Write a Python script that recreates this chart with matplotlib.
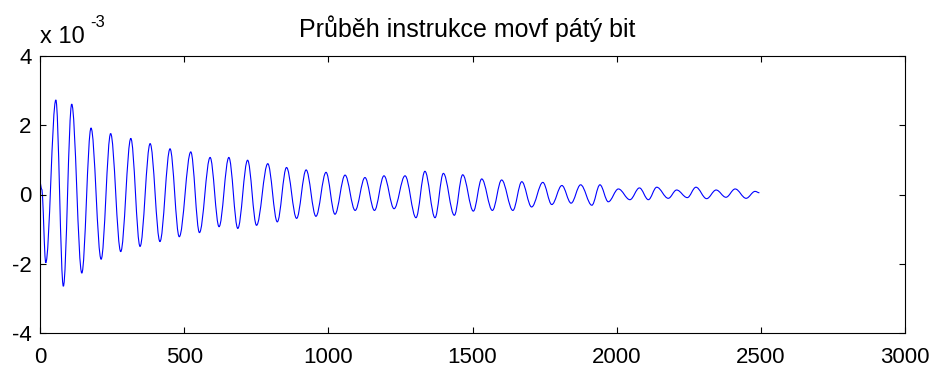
import numpy as np
import matplotlib
matplotlib.use('Agg')
import matplotlib.pyplot as plt
from matplotlib.path import Path
from matplotlib.patches import PathPatch

plt.rcParams['font.family'] = ['Liberation Sans', 'DejaVu Sans']

# sample index / amplitude (x 1e-3) at turning points of the trace
samples = [0, 6, 20, 55, 81, 110, 145, 177, 212, 245, 280, 315, 347, 382, 416,
           451, 483, 523, 553, 590, 621, 655, 686, 720, 751, 790, 823, 855, 890,
           923, 957, 992, 1023, 1058, 1093, 1127, 1160, 1193, 1228, 1266, 1304,
           1335, 1370, 1399, 1437, 1466, 1503, 1532, 1569, 1601, 1640, 1671,
           1705, 1744, 1775, 1810, 1842, 1875, 1914, 1942, 1971, 2006, 2046,
           2079, 2110, 2139, 2179, 2208, 2245, 2275, 2312, 2345, 2379, 2411,
           2449, 2480, 2495]
amplitude = [0.34, 0.15, -1.97, 2.73, -2.65, 2.61, -2.27, 1.92, -1.87, 1.76,
             -1.65, 1.62, -1.50, 1.47, -1.36, 1.32, -1.22, 1.23, -1.10, 1.07,
             -0.93, 1.07, -0.98, 0.99, -0.89, 0.89, -0.79, 0.78, -0.69, 0.71,
             -0.63, 0.64, -0.57, 0.56, -0.46, 0.49, -0.46, 0.54, -0.41, 0.54,
             -0.67, 0.67, -0.67, 0.61, -0.60, 0.57, -0.48, 0.45, -0.46, 0.42,
             -0.46, 0.37, -0.36, 0.35, -0.29, 0.26, -0.25, 0.28, -0.31, 0.28,
             -0.21, 0.16, -0.15, 0.19, -0.15, 0.21, -0.11, 0.13, -0.09, 0.21,
             -0.12, 0.13, -0.08, 0.16, -0.11, 0.09, 0.05]

xticks = [0, 500, 1000, 1500, 2000, 2500, 3000]
yticks = [-4, -2, 0, 2, 4]

fig = plt.figure(figsize=(9.4, 3.72), dpi=100)
ax = fig.add_axes([40/940, 39/372, 865/940, 277/372])

# smooth the trace between turning points with flat-tangent bezier segments
verts = [(samples[0], amplitude[0])]
codes = [Path.MOVETO]
for i in range(1, len(samples)):
    x0, y0 = samples[i-1], amplitude[i-1]
    x1, y1 = samples[i], amplitude[i]
    dx = x1 - x0
    verts += [(x0 + 0.36*dx, y0), (x1 - 0.36*dx, y1), (x1, y1)]
    codes += [Path.CURVE4] * 3
trace = PathPatch(Path(verts, codes), fill=False, edgecolor=(0, 0, 1), lw=0.8)
ax.add_patch(trace)

ax.set_xlim(0, 3000)
ax.set_ylim(-4, 4)
ax.set_xticks(xticks)
ax.set_yticks(yticks)
ax.set_xticklabels([str(t) for t in xticks])
ax.set_yticklabels([str(t) for t in yticks])
ax.tick_params(direction='in', length=4, width=0.8, top=True, right=True,
               labelsize=16)
ax.tick_params(axis='x', pad=10)
ax.tick_params(axis='y', pad=6)
for s in ax.spines.values():
    s.set_linewidth(0.8)

fig.text(467/940, 1 - 37/372, 'Průběh instrukce movf pátý bit', fontsize=18,
         ha='center', va='baseline')
fig.text(40/940, 1 - 43/372, 'x 10', fontsize=17, va='baseline', ha='left')
fig.text(90/940, 1 - 27/372, '-3', fontsize=12, va='baseline', ha='left')

fig.savefig('out.png', dpi=100)
